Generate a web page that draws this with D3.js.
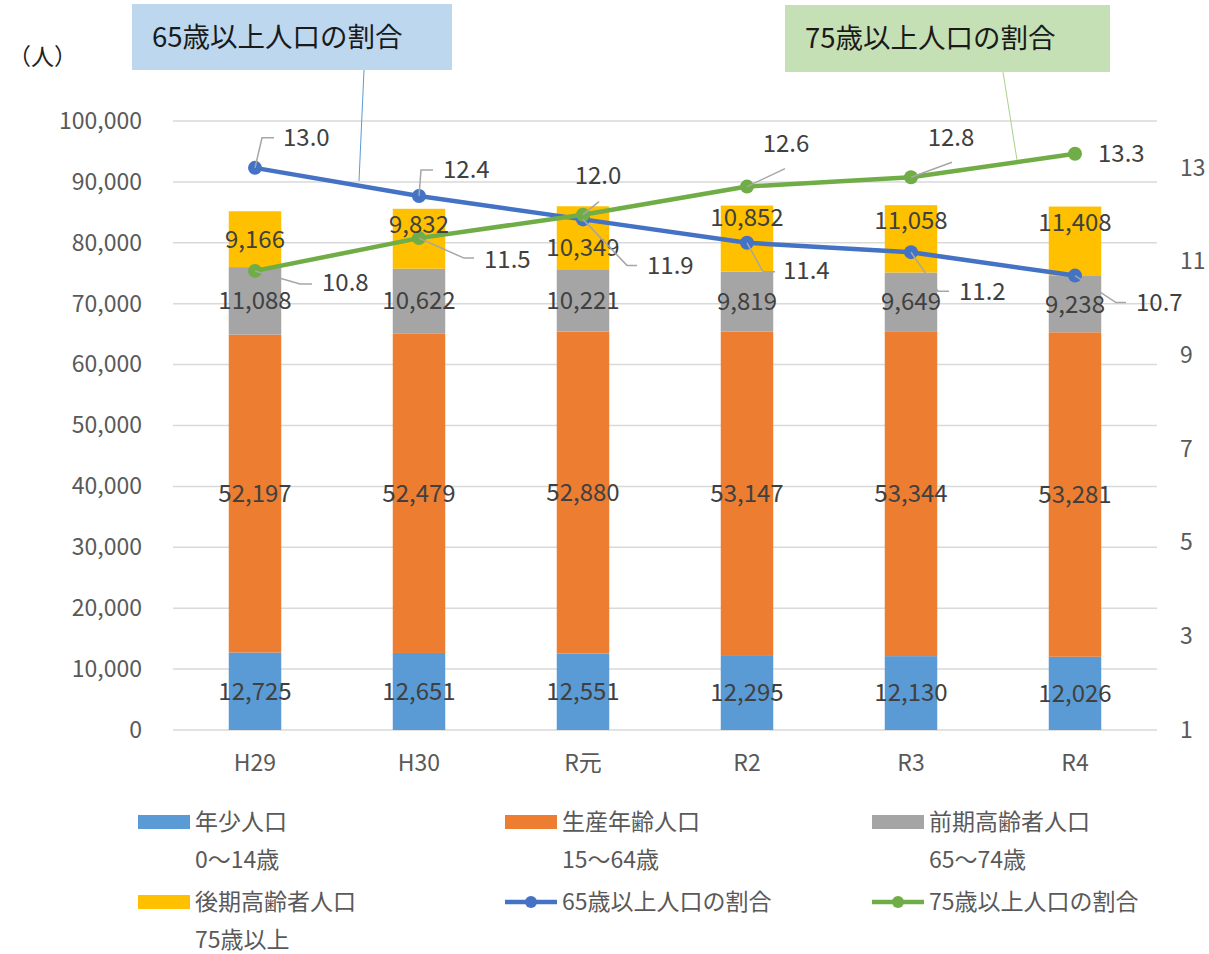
<!DOCTYPE html>
<html>
<head>
<meta charset="utf-8">
<script src="https://cdn.jsdelivr.net/npm/d3@7"></script>
<style>
  body { margin: 0; background: #fff; }
  text { font-family: "Noto Sans CJK JP", "Noto Sans", sans-serif; }
</style>
</head>
<body>
<svg id="chart"></svg>
<script>
// values
const categories = ["H29", "H30", "R元", "R2", "R3", "R4"];
const youth = [12725, 12651, 12551, 12295, 12130, 12026];
const working = [52197, 52479, 52880, 53147, 53344, 53281];
const earlyElderly = [11088, 10622, 10221, 9819, 9649, 9238];
const lateElderly = [9166, 9832, 10349, 10852, 11058, 11408];
const rate65 = [13.0, 12.4, 11.9, 11.4, 11.2, 10.7];
const rate75 = [10.8, 11.5, 12.0, 12.6, 12.8, 13.3];
const leftTicks = [0, 10000, 20000, 30000, 40000, 50000, 60000, 70000, 80000, 90000, 100000];
const rightTicks = [1, 3, 5, 7, 9, 11, 13];

const seriesNames = ["年少人口", "生産年齢人口", "前期高齢者人口", "後期高齢者人口"];
const seriesSub = ["0〜14歳", "15〜64歳", "65〜74歳", "75歳以上"];
const barColors = ["#5b9bd5", "#ed7d31", "#a5a5a5", "#ffc000"];

// label placement relative to each point: leader elbow dx/dy, leader end dx, text dx/dy, anchor
const lab65 = [
  {ex: 7, ey: -30, endx: 19, tx: 28, ty: -30, a: "start"},
  {ex: 2, ey: -26, endx: 14, tx: 24, ty: -26, a: "start"},
  {ex: 44, ey: 46, endx: 54, tx: 64, ty: 46, a: "start"},
  {ex: 16, ey: 29, endx: 28, tx: 36, ty: 28, a: "start"},
  {ex: 27, ey: 39, endx: 38, tx: 48, ty: 39, a: "start"},
  {ex: 41, ey: 27, endx: 51, tx: 61, ty: 27, a: "start"}
];
const lab75 = [
  {ex: 45, ey: 13, endx: 57, tx: 67, ty: 12, a: "start"},
  {ex: 45, ey: 20, endx: 55, tx: 65, ty: 21, a: "start"},
  {ex: 16, ey: -13, endx: 16, tx: 15, ty: -39, a: "middle"},
  {ex: 38, ey: -18, endx: 38, tx: 39, ty: -43, a: "middle"},
  {ex: 41, ey: -15, endx: 41, tx: 40, ty: -40, a: "middle"},
  null
];
// the top-segment labels were nudged by hand in the original
const lateLabelShift = [0, -14, 10, -21, -18, -19];

const width = 1209, height = 954;
const margin = {top: 121, left: 173, right: 52, bottom: 224};
const axisFont = 23;

const svg = d3.select("#chart").attr("width", width).attr("height", height);

const x = d3.scaleBand()
  .domain(categories)
  .range([margin.left, width - margin.right])
  .paddingInner(0.68)
  .paddingOuter(0.34);

const y = d3.scaleLinear().domain([0, 100000]).range([height - margin.bottom, margin.top]);
const y2 = d3.scaleLinear().domain([1, 14]).range([height - margin.bottom, margin.top]);

// gridlines
svg.append("g")
  .selectAll("line")
  .data(leftTicks)
  .join("line")
  .attr("x1", margin.left)
  .attr("x2", width - margin.right)
  .attr("y1", d => y(d))
  .attr("y2", d => y(d))
  .attr("stroke", "#d9d9d9")
  .attr("stroke-width", 1.5);

// left axis
const yAxis = d3.axisLeft(y).tickValues(leftTicks).tickSize(0).tickPadding(31)
  .tickFormat(d3.format(","));
svg.append("g")
  .attr("transform", `translate(${margin.left},0)`)
  .call(yAxis)
  .call(g => g.select(".domain").remove())
  .selectAll("text")
  .attr("font-size", axisFont)
  .attr("fill", "#595959")
  .style("font-family", "'Noto Sans CJK JP'");

// right axis
const y2Axis = d3.axisRight(y2).tickValues(rightTicks).tickSize(0).tickPadding(23);
svg.append("g")
  .attr("transform", `translate(${width - margin.right},0)`)
  .call(y2Axis)
  .call(g => g.select(".domain").remove())
  .selectAll("text")
  .attr("font-size", axisFont)
  .attr("fill", "#595959")
  .style("font-family", "'Noto Sans CJK JP'");

// x axis labels
svg.append("g")
  .selectAll("text")
  .data(categories)
  .join("text")
  .attr("x", d => x(d) + x.bandwidth() / 2)
  .attr("y", 771)
  .attr("text-anchor", "middle")
  .attr("font-size", axisFont)
  .attr("fill", "#595959")
  .text(d => d);

// stacked bars
const rows = categories.map((c, i) => ({
  cat: c, youth: youth[i], working: working[i], early: earlyElderly[i], late: lateElderly[i]
}));
const keys = ["youth", "working", "early", "late"];
const stack = d3.stack().keys(keys)(rows);

const layers = svg.append("g")
  .selectAll("g")
  .data(stack)
  .join("g")
  .attr("fill", (d, i) => barColors[i]);

layers.selectAll("rect")
  .data(d => d)
  .join("rect")
  .attr("x", d => x(d.data.cat))
  .attr("width", x.bandwidth())
  .attr("y", d => y(d[1]))
  .attr("height", d => y(d[0]) - y(d[1]));

// lines
const lineGen = (vals) => d3.line()
  .x((d, i) => x(categories[i]) + x.bandwidth() / 2)
  .y(d => y2(d))(vals);

function drawSeries(vals, color) {
  svg.append("path")
    .attr("d", lineGen(vals))
    .attr("fill", "none")
    .attr("stroke", color)
    .attr("stroke-width", 4.5)
    .attr("stroke-linejoin", "round");
  svg.append("g")
    .selectAll("circle")
    .data(vals)
    .join("circle")
    .attr("cx", (d, i) => x(categories[i]) + x.bandwidth() / 2)
    .attr("cy", d => y2(d))
    .attr("r", 7)
    .attr("fill", color);
}
drawSeries(rate65, "#4472c4");
drawSeries(rate75, "#70ad47");

// bar value labels
const barLabels = svg.append("g");
stack.forEach(layer => {
  const shift = layer.key === "late" ? lateLabelShift : categories.map(() => 0);
  barLabels.selectAll(null)
    .data(layer)
    .join("text")
    .attr("x", d => x(d.data.cat) + x.bandwidth() / 2)
    .attr("y", (d, i) => (y(d[0]) + y(d[1])) / 2 + shift[i])
    .attr("dy", "0.35em")
    .attr("text-anchor", "middle")
    .attr("font-size", 24)
    .attr("fill", "#404040")
    .text(d => d3.format(",")(d[1] - d[0]));
});

// line value labels with leaders
function drawLineLabels(vals, layout) {
  const g = svg.append("g");
  vals.forEach((v, i) => {
    const px = x(categories[i]) + x.bandwidth() / 2;
    const py = y2(v);
    const L = layout[i];
    if (L) {
      g.append("polyline")
        .attr("points", `${px},${py} ${px + L.ex},${py + L.ey} ${px + L.endx},${py + L.ey}`)
        .attr("fill", "none")
        .attr("stroke", "#a6a6a6")
        .attr("stroke-width", 1.5);
    }
    const t = L || {tx: 23, ty: 0, a: "start"};
    g.append("text")
      .attr("x", px + t.tx)
      .attr("y", py + t.ty)
      .attr("dy", "0.35em")
      .attr("text-anchor", t.a)
      .attr("font-size", 24)
      .attr("fill", "#404040")
      .text(v.toFixed(1));
  });
}
drawLineLabels(rate65, lab65);
drawLineLabels(rate75, lab75);

// unit label
svg.append("text")
  .attr("x", 8).attr("y", 57).attr("dy", "0.35em")
  .attr("font-size", 23).attr("fill", "#222")
  .text("（人）");

// callout boxes
function callout(bx, by, bw, bh, fill, label, lx1, ly1, lx2, ly2, lineColor) {
  svg.append("line")
    .attr("x1", lx1).attr("y1", ly1).attr("x2", lx2).attr("y2", ly2)
    .attr("stroke", lineColor).attr("stroke-width", 1);
  svg.append("rect")
    .attr("x", bx).attr("y", by).attr("width", bw).attr("height", bh)
    .attr("fill", fill);
  svg.append("text")
    .attr("x", bx + 20).attr("y", by + bh / 2).attr("dy", "0.35em")
    .attr("font-size", 27.5).attr("fill", "#1a1a1a")
    .text(label);
}
callout(132, 4, 320, 66, "#bdd7ee", "65歳以上人口の割合", 364, 70, 359, 181, "#5b9bd5");
callout(785, 5, 325, 67, "#c5e0b4", "75歳以上人口の割合", 1003, 72, 1017, 160, "#a9d18e");

// legend
const legendItems = [
  {name: seriesNames[0], sub: seriesSub[0], color: barColors[0], type: "rect", col: 0, row: 0},
  {name: seriesNames[1], sub: seriesSub[1], color: barColors[1], type: "rect", col: 1, row: 0},
  {name: seriesNames[2], sub: seriesSub[2], color: barColors[2], type: "rect", col: 2, row: 0},
  {name: seriesNames[3], sub: seriesSub[3], color: barColors[3], type: "rect", col: 0, row: 1},
  {name: "65歳以上人口の割合", sub: null, color: "#4472c4", type: "line", col: 1, row: 1},
  {name: "75歳以上人口の割合", sub: null, color: "#70ad47", type: "line", col: 2, row: 1}
];
const colX = [138, 505, 872];
const rowY = [822, 902];

const legend = svg.append("g");
legendItems.forEach(it => {
  const lx = colX[it.col], ly = rowY[it.row];
  if (it.type === "rect") {
    legend.append("rect")
      .attr("x", lx).attr("y", ly - 7).attr("width", 52).attr("height", 14)
      .attr("fill", it.color);
  } else {
    legend.append("line")
      .attr("x1", lx).attr("x2", lx + 52).attr("y1", ly).attr("y2", ly)
      .attr("stroke", it.color).attr("stroke-width", 4.5);
    legend.append("circle")
      .attr("cx", lx + 26).attr("cy", ly).attr("r", 6).attr("fill", it.color);
  }
  legend.append("text")
    .attr("x", lx + 57).attr("y", ly).attr("dy", "0.35em")
    .attr("font-size", 23).attr("fill", "#595959")
    .text(it.name);
  if (it.sub) {
    legend.append("text")
      .attr("x", lx + 57).attr("y", ly + 38).attr("dy", "0.35em")
      .attr("font-size", 23).attr("fill", "#595959")
      .text(it.sub);
  }
});
</script>
</body>
</html>
